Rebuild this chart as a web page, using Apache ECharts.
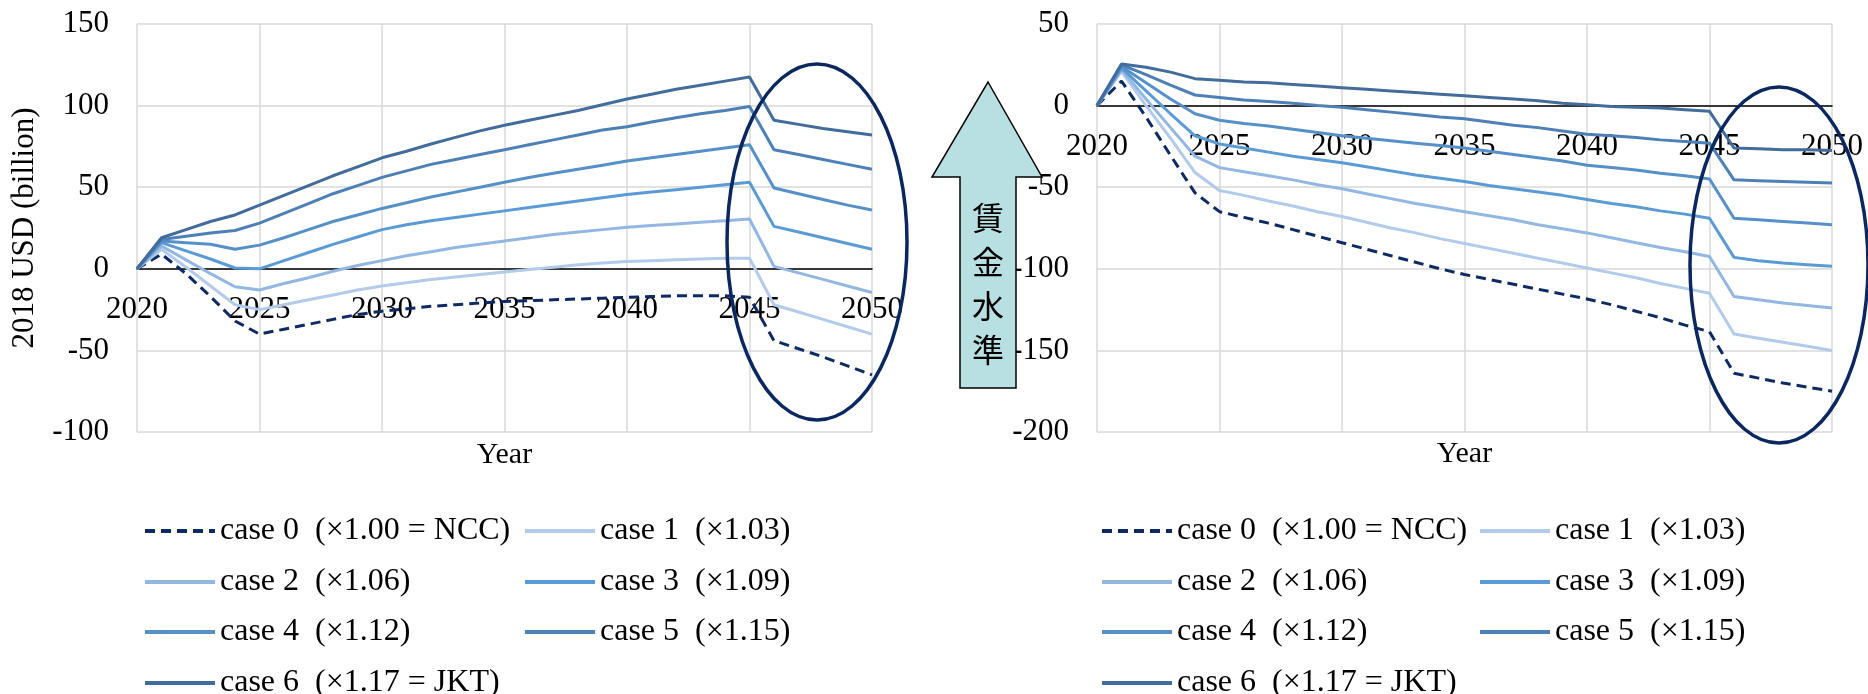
<!DOCTYPE html>
<html>
<head>
<meta charset="utf-8">
<script src="https://cdn.jsdelivr.net/npm/echarts@6/dist/echarts.min.js"></script>
<style>
  html, body { margin: 0; padding: 0; background: #fff; }
  #chart { width: 1868px; height: 694px; }
</style>
</head>
<body>
<div id="chart"></div>
<script>
// x axis categories
var years = ['2020', '2021', '2022', '2023', '2024', '2025', '2026', '2027', '2028', '2029',
  '2030', '2031', '2032', '2033', '2034', '2035', '2036', '2037', '2038', '2039',
  '2040', '2041', '2042', '2043', '2044', '2045', '2046', '2047', '2048', '2049', '2050'];

var caseNames = [
  'case 0  (×1.00 = NCC)',
  'case 1  (×1.03)',
  'case 2  (×1.06)',
  'case 3  (×1.09)',
  'case 4  (×1.12)',
  'case 5  (×1.15)',
  'case 6  (×1.17 = JKT)'
];

// left panel, 2018 USD (billion)
var case0L = [0, 9, -3, -17, -32, -40, -37, -34, -31, -28, -26, -24.5, -23, -22, -21, -20, -19.5, -19, -18.5, -18, -17.5, -17, -16.5, -16.5, -16.5, -17.5, -44, -49, -54, -59.5, -65];
var case1L = [0, 12, 1, -10.5, -22, -25, -22, -19, -16, -13, -10.5, -8.5, -6.5, -5, -3.5, -2, -0.5, 1, 2.5, 3.5, 4.5, 5, 5.5, 6, 6.5, 6.5, -22, -26.5, -31, -35.5, -40];
var case2L = [0, 14, 5.5, -3, -11, -13, -9, -5.5, -1.5, 2, 5, 8, 10.5, 13, 15, 17, 19, 21, 22.5, 24, 25.5, 26.5, 27.5, 28.5, 29.5, 30.5, 1.5, -2.5, -6.5, -10.5, -14.5];
var case3L = [0, 16, 11, 6, 0.5, 0, 5, 10, 15, 19.5, 24, 27, 29.5, 31.5, 33.5, 35.5, 37.5, 39.5, 41.5, 43.5, 45.5, 47, 48.5, 50, 51.5, 53, 26, 22.5, 19, 15.5, 12];
var case4L = [0, 17, 16, 15, 12, 14.5, 19, 24, 29, 33, 37, 40.5, 44, 47, 50, 53, 56, 58.5, 61, 63.5, 66, 68, 70, 72, 74, 76, 49.5, 46, 42.5, 39, 36];
var case5L = [0, 18, 20, 22, 23.5, 28, 34, 40, 46, 51, 56, 60, 64, 67, 70, 73, 76, 79, 82, 85, 87, 90, 92.5, 95, 97, 99.5, 73, 70, 67, 64, 61];
var case6L = [0, 19, 24, 29, 33, 39, 45, 51, 57, 62.5, 68, 72, 76.5, 80.5, 84.5, 88, 91, 94, 97, 100.5, 104, 107, 110, 112.5, 115, 117.5, 91, 88.5, 86, 84, 82];

// right panel
var case0R = [0, 15, -7, -30.5, -53.5, -65, -68.5, -72, -76, -80, -84, -88, -92, -96, -100, -103.5, -106.5, -109.5, -112.5, -115.5, -118.5, -122, -126, -130, -134.5, -138.5, -164, -167, -170, -172.5, -175];
var case1R = [0, 21, 0, -20, -41, -52, -55, -58.5, -61.5, -65, -68, -71.5, -75, -78, -81.5, -84.5, -87.5, -90.5, -93.5, -96.5, -99.5, -102.5, -105.5, -109, -112, -115, -140, -142.5, -145, -147.5, -150];
var case2R = [0, 22, 4, -13.5, -31, -38, -40.5, -43, -45.5, -48.5, -51, -54, -57, -60, -62.5, -65, -67.5, -70, -73, -75.5, -78, -81, -84, -87, -89.5, -92.5, -117, -119, -121, -122.5, -124];
var case3R = [0, 23, 9, -5, -18.5, -23.5, -26, -28.5, -31, -33, -35, -37.5, -40, -42.5, -44.5, -46.5, -49, -51, -53, -55, -57.5, -60, -62, -64.5, -66.5, -69, -93, -95, -96.5, -97.5, -98.5];
var case4R = [0, 24, 14, 4, -5, -9, -11, -12.5, -14.5, -16.5, -18.5, -20, -21.5, -23, -24.5, -26, -28, -30, -32, -34, -36.5, -38, -39.5, -41.5, -43, -45, -69, -70, -71, -72, -73];
var case5R = [0, 25, 19, 12.5, 6.5, 5, 3.5, 2.5, 1.5, 0, -1, -2.5, -4, -5.5, -7, -8, -10, -12, -13.5, -15.5, -17.5, -18.5, -19.5, -21, -22, -23, -45.5, -46, -46.5, -47, -47.5];
var case6R = [0, 25.5, 23.5, 20.5, 16.5, 15.5, 14.5, 14, 13, 12, 11, 10, 9, 8, 7, 6, 5, 4, 3, 1.5, 0.5, -0.5, -1, -1.5, -2.5, -3.5, -26, -26.5, -27, -27, -27.5];

var leftData = [case0L, case1L, case2L, case3L, case4L, case5L, case6L];
var rightData = [case0R, case1R, case2R, case3R, case4R, case5R, case6R];

var colors = ['#0e2a63', '#b2cbea', '#92b7e3', '#5b9bd5', '#5590c9', '#4c80b6', '#416c9b'];

var serif = '"Liberation Serif", "Times New Roman", serif';
var gridColor = '#d9d9d9';
var plotTop = 24, plotHeight = 408;

// the x axis sits on the zero line: shift it up from the grid bottom
function xAxisOf(idx, min, max) {
  return {
    type: 'category',
    gridIndex: idx,
    data: years,
    boundaryGap: false,
    offset: -plotHeight * (0 - min) / (max - min),
    name: 'Year',
    nameLocation: 'middle',
    nameGap: 0,
    nameTextStyle: { fontSize: 30, fontFamily: serif, color: '#000' },
    axisLine: { onZero: false, lineStyle: { color: '#000', width: 1.5 } },
    axisTick: { show: false },
    axisLabel: { interval: 4, margin: 26, fontSize: 31, fontFamily: serif, color: '#000' },
    splitLine: { show: true, interval: 4, lineStyle: { color: gridColor, width: 1.5 } }
  };
}

function yAxisOf(idx, min, max) {
  return {
    type: 'value',
    gridIndex: idx,
    min: min,
    max: max,
    interval: 50,
    axisLine: { show: false },
    axisTick: { show: false },
    axisLabel: { margin: 28, fontSize: 31, fontFamily: serif, color: '#000' },
    splitLine: { lineStyle: { color: gridColor, width: 1.5 } }
  };
}

// one legend per item so the two-column layout stays put
var legendRows = [515, 566, 616, 667];
function legendItem(colLeft, name, row) {
  return {
    left: colLeft,
    top: legendRows[row],
    padding: 0,
    itemWidth: 70,
    itemHeight: 14,
    selectedMode: false,
    itemStyle: { opacity: 0 },
    lineStyle: { width: 4 },
    textStyle: { fontSize: 32, fontFamily: serif, color: '#000' },
    data: [name]
  };
}

var legends = [];
[[143, 523], [1100, 1478]].forEach(function (cols) {
  caseNames.forEach(function (name, i) {
    legends.push(legendItem(cols[i % 2], name, Math.floor(i / 2)));
  });
});

var series = [];
[leftData, rightData].forEach(function (set, g) {
  set.forEach(function (vals, i) {
    series.push({
      name: caseNames[i],
      type: 'line',
      xAxisIndex: g,
      yAxisIndex: g,
      data: vals,
      symbol: 'none',
      color: colors[i],
      lineStyle: { width: 3, color: colors[i], type: i === 0 ? [10, 6] : 'solid' },
      z: 3 + i
    });
  });
});

var xLeft = xAxisOf(0, -100, 150);
xLeft.nameGap = 171;
var xRight = xAxisOf(1, -200, 50);
xRight.nameGap = 334;

var yLeft = yAxisOf(0, -100, 150);
yLeft.name = '2018 USD (billion)';
yLeft.nameLocation = 'middle';
yLeft.nameGap = 97;
yLeft.nameTextStyle = { fontSize: 31, fontFamily: serif, color: '#000' };

var option = {
  backgroundColor: '#fff',
  animation: false,
  grid: [
    { left: 137, top: plotTop, width: 735, height: plotHeight, containLabel: false, outerBoundsMode: 'none' },
    { left: 1097, top: plotTop, width: 735, height: plotHeight, containLabel: false, outerBoundsMode: 'none' }
  ],
  xAxis: [xLeft, xRight],
  yAxis: [yLeft, yAxisOf(1, -200, 50)],
  legend: legends,
  series: series,
  graphic: [
    // circles around 2045-2050
    {
      type: 'ellipse', z: 100,
      shape: { cx: 817, cy: 242, rx: 90, ry: 178 },
      style: { fill: 'none', stroke: '#0b2760', lineWidth: 3.5 }
    },
    {
      type: 'ellipse', z: 100,
      shape: { cx: 1779, cy: 265, rx: 89, ry: 178 },
      style: { fill: 'none', stroke: '#0b2760', lineWidth: 3.5 }
    },
    // wage level arrow
    {
      type: 'polygon', z: 100,
      shape: { points: [[988, 82], [1042, 177], [1016, 177], [1016, 388], [960, 388], [960, 177], [932, 177]] },
      style: { fill: '#b8e0e3', stroke: '#000', lineWidth: 1.5 }
    },
    {
      type: 'text', z: 101,
      x: 988, y: 284,
      style: {
        text: '賃\n金\n水\n準',
        fontSize: 32,
        fontFamily: '"Noto Sans CJK JP"',
        fill: '#000',
        align: 'center',
        verticalAlign: 'middle',
        lineHeight: 44
      }
    }
  ]
};

var chart = echarts.init(document.getElementById('chart'));
chart.setOption(option);
</script>
</body>
</html>
